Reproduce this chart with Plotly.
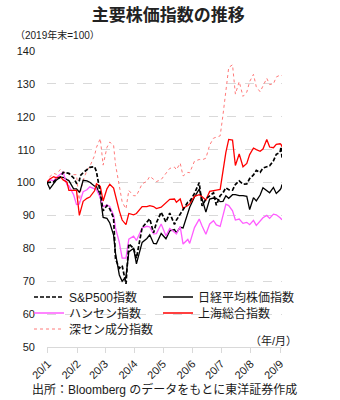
import plotly.graph_objects as go

# Trading dates (2019-12-31 = base 100)
dates = [
    "2019-12-31", "2020-01-03", "2020-01-07", "2020-01-10", "2020-01-14", "2020-01-17",
    "2020-01-21", "2020-01-23", "2020-01-28", "2020-01-31", "2020-02-03", "2020-02-04",
    "2020-02-07", "2020-02-11", "2020-02-14", "2020-02-19", "2020-02-21", "2020-02-25",
    "2020-02-28", "2020-03-03", "2020-03-06", "2020-03-10", "2020-03-12", "2020-03-16",
    "2020-03-19", "2020-03-23", "2020-03-26", "2020-03-31", "2020-04-03", "2020-04-09",
    "2020-04-14", "2020-04-17", "2020-04-21", "2020-04-24", "2020-04-29", "2020-05-04",
    "2020-05-08", "2020-05-13", "2020-05-15", "2020-05-19", "2020-05-22", "2020-05-27",
    "2020-05-29", "2020-06-03", "2020-06-08", "2020-06-11", "2020-06-15", "2020-06-19",
    "2020-06-23", "2020-06-26", "2020-06-30", "2020-07-03", "2020-07-06", "2020-07-09",
    "2020-07-13", "2020-07-16", "2020-07-20", "2020-07-24", "2020-07-28", "2020-07-31",
    "2020-08-04", "2020-08-07", "2020-08-11", "2020-08-14", "2020-08-18", "2020-08-21",
    "2020-08-25", "2020-08-28", "2020-09-01", "2020-09-02", "2020-09-03",
]

sp500 = [
    100.0, 100.1, 100.2, 101.1, 101.6, 103.1, 102.8, 102.8, 101.4, 99.8, 100.6, 102.1,
    103.0, 103.9, 104.6, 104.8, 103.3, 96.8, 91.4, 93.0, 92.0, 89.2, 76.8, 73.9,
    74.7, 69.2, 81.4, 80.0, 77.0, 86.3, 88.1, 89.0, 84.7, 87.8, 91.0, 88.0,
    90.7, 87.3, 88.6, 90.5, 91.5, 94.0, 94.2, 96.7, 100.0, 92.9, 95.0, 95.9,
    96.9, 93.1, 96.0, 96.9, 98.4, 97.8, 97.7, 99.4, 100.5, 99.5, 99.6, 101.2,
    102.3, 103.7, 103.1, 104.4, 104.9, 105.1, 106.6, 108.6, 109.2, 110.8, 107.6,
]

nikkei = [
    100.0, 98.1, 99.7, 100.8, 101.6, 101.6, 100.9, 100.6, 98.1, 98.1, 97.1, 97.6,
    100.7, 100.5, 100.1, 98.9, 98.9, 95.6, 89.4, 89.1, 87.7, 84.0, 78.5, 71.9,
    70.0, 71.4, 78.9, 80.0, 75.3, 81.8, 83.0, 84.1, 81.5, 81.4, 84.5, 82.9,
    85.3, 85.7, 84.7, 86.4, 86.2, 90.5, 92.5, 95.6, 98.0, 95.0, 91.0, 95.0,
    95.3, 95.2, 94.2, 94.3, 96.0, 95.2, 96.3, 96.3, 96.0, 96.0, 95.8, 91.8,
    95.4, 94.4, 96.2, 98.4, 97.4, 96.9, 98.5, 96.7, 97.8, 98.3, 99.4,
]

hangseng = [
    100.0, 100.9, 100.5, 101.6, 102.5, 103.1, 99.3, 99.0, 96.3, 93.3, 93.5, 94.6,
    97.2, 97.8, 98.7, 98.1, 97.9, 95.4, 92.7, 93.2, 92.7, 90.1, 86.2, 81.8,
    77.0, 77.0, 82.8, 83.7, 82.4, 86.2, 86.7, 86.5, 84.4, 84.5, 87.4, 83.8,
    86.0, 84.9, 84.4, 86.6, 81.3, 82.7, 81.5, 86.3, 88.9, 86.8, 84.3, 87.4,
    88.4, 87.1, 86.7, 90.0, 93.4, 93.0, 91.4, 88.6, 88.9, 87.6, 87.9, 87.2,
    88.5, 87.0, 88.3, 89.3, 90.0, 89.1, 90.4, 90.2, 89.3, 89.1, 88.7,
]

shanghai = [
    100.0, 101.1, 101.8, 101.4, 101.8, 100.8, 100.1, 97.6, 97.6, 97.6, 90.0, 91.2,
    94.3, 95.2, 95.6, 97.5, 99.6, 98.8, 94.4, 98.1, 99.5, 98.3, 95.8, 91.4,
    88.6, 87.2, 90.6, 90.2, 90.6, 92.7, 92.7, 93.0, 92.7, 92.1, 92.5, 93.8,
    94.9, 95.0, 94.0, 95.0, 92.2, 93.0, 93.5, 95.8, 96.3, 95.7, 94.7, 97.3,
    97.4, 97.7, 97.9, 103.4, 109.2, 113.1, 112.9, 105.2, 108.7, 104.8, 105.8, 108.5,
    110.5, 110.0, 109.5, 110.2, 113.1, 110.8, 110.6, 111.6, 111.8, 111.6, 110.9,
]

shenzhen = [
    100.0, 101.8, 102.8, 102.5, 104.0, 103.1, 103.0, 102.4, 102.4, 102.4, 93.8, 96.9,
    100.7, 103.7, 104.9, 108.2, 110.7, 113.4, 105.3, 110.7, 112.3, 111.3, 105.5, 98.8,
    94.1, 92.0, 97.6, 96.0, 96.0, 99.6, 100.4, 101.9, 101.0, 100.3, 100.9, 102.8,
    104.3, 104.7, 103.9, 105.9, 102.0, 103.1, 103.0, 106.5, 107.0, 106.9, 107.4, 111.4,
    113.5, 113.8, 114.2, 120.6, 127.8, 135.0, 135.8, 126.9, 130.7, 126.2, 127.5, 130.7,
    132.9, 129.1, 127.6, 129.4, 131.7, 129.8, 130.0, 132.1, 132.6, 132.8, 132.5,
]

month_ticks = ["2020-01-01", "2020-02-01", "2020-03-01", "2020-04-01", "2020-05-01",
               "2020-06-01", "2020-07-01", "2020-08-01", "2020-09-01"]
month_labels = ["20/1", "20/2", "20/3", "20/4", "20/5", "20/6", "20/7", "20/8", "20/9"]

FONT = "Liberation Sans, Arial, Noto Sans CJK JP, sans-serif"
TXT = "#1a1a1a"

# plot area in pixels: left 47, width 235, bottom 347, height 296
def px_x(p):
    return (p - 47) / 235


def px_y(p):
    return (347 - p) / 296


# name, values, line style, legend id, legend position (text-left px, row-centre px)
series = {
    "sz": ("深セン成分指数", shenzhen, dict(color="#ff7a7a", width=1, dash="dot"), "legend5", (69, 329)),
    "nk": ("日経平均株価指数", nikkei, dict(color="#000000", width=1.3), "legend2", (198, 297)),
    "hs": ("ハンセン指数", hangseng, dict(color="#ff5cff", width=1.3), "legend3", (69, 313)),
    "sh": ("上海総合指数", shanghai, dict(color="#ff0000", width=1.3), "legend4", (198, 313)),
    "sp": ("S&P500指数", sp500, dict(color="#000000", width=1.7, dash="4px,2px"), "legend", (69, 297)),
}

fig = go.Figure()
legends = {}
for key in ["sz", "nk", "hs", "sh", "sp"]:
    name, vals, line, lg, (tx, ty) = series[key]
    fig.add_trace(go.Scatter(x=dates, y=vals, mode="lines", name=name, line=line, legend=lg))
    legends[lg] = dict(
        orientation="h", xref="paper", yref="paper", xanchor="left", yanchor="middle",
        x=px_x(tx - 40), y=px_y(ty), bgcolor="rgba(0,0,0,0)",
        font=dict(family=FONT, size=12, color=TXT),
    )

fig.update_layout(
    width=340, height=400,
    margin=dict(l=47, r=58, t=51, b=53),
    paper_bgcolor="white", plot_bgcolor="white",
    title=dict(text="主要株価指数の推移", x=0.495, xanchor="center", y=0.962, yanchor="middle",
               font=dict(family="Noto Sans CJK JP", size=17, color="#222222", weight="bold")),
    xaxis=dict(
        type="date", range=["2019-12-31", "2020-09-03"],
        tickvals=month_ticks, ticktext=month_labels, tickangle=-45,
        showgrid=False, showline=True, linecolor="#d9d9d9", linewidth=1,
        ticks="outside", ticklen=5, tickcolor="#d9d9d9",
        tickfont=dict(family=FONT, size=11, color=TXT),
    ),
    yaxis=dict(
        range=[50, 140], dtick=10, tick0=50,
        showgrid=True, gridcolor="#d9d9d9", griddash="dash", gridwidth=1,
        zeroline=False, showline=False, ticks="", ticklabelstandoff=11,
        tickfont=dict(family=FONT, size=11, color=TXT),
    ),
    showlegend=True,
    **legends,
)

fig.add_annotation(text="（2019年末=100）", xref="paper", yref="paper",
                   x=px_x(13), y=px_y(35), xanchor="left", yanchor="middle",
                   showarrow=False, font=dict(family=FONT, size=10, color=TXT))
fig.add_annotation(text="（年/月）", xref="paper", yref="paper",
                   x=px_x(299), y=px_y(340), xanchor="right", yanchor="middle",
                   showarrow=False, font=dict(family=FONT, size=11, color=TXT))
fig.add_annotation(text="出所：Bloomberg のデータをもとに東洋証券作成", xref="paper", yref="paper",
                   x=px_x(164), y=px_y(389), xanchor="center", yanchor="middle",
                   showarrow=False, font=dict(family=FONT, size=12, color=TXT))

fig.write_html("out.html")
